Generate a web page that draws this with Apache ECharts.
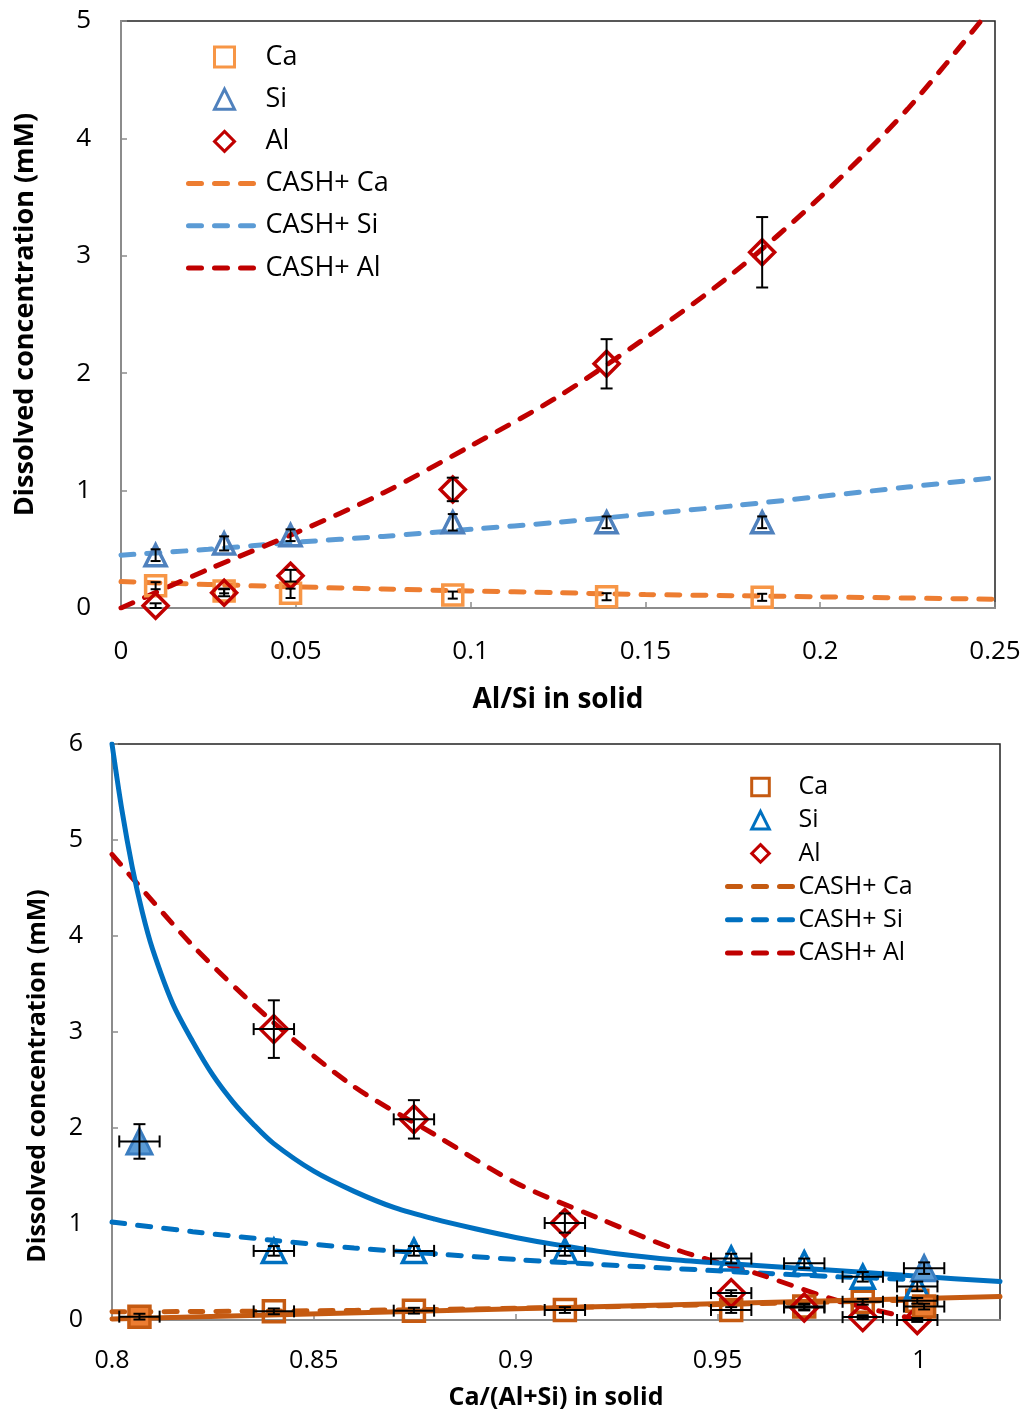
<!DOCTYPE html>
<html><head><meta charset="utf-8">
<script src="https://cdn.jsdelivr.net/npm/echarts@6/dist/echarts.min.js"></script>
<style>html,body{margin:0;padding:0;background:#fff}#c{width:1027px;height:1412px}</style>
</head><body><div id="c"></div><script>
// ---------- Top chart: Al/Si in solid ----------
const topX      = [0.0099, 0.0295, 0.0485, 0.0949, 0.1389, 0.1834];
const topCa     = [0.19, 0.145, 0.125, 0.11, 0.096, 0.091];
const topCaErr  = [0.03, 0.02, 0.04, 0.03, 0.03, 0.03];
const topSi     = [0.45, 0.55, 0.62, 0.73, 0.73, 0.73];
const topSiErr  = [0.05, 0.06, 0.05, 0.07, 0.05, 0.05];
const topAl     = [0.02, 0.13, 0.275, 1.01, 2.08, 3.03];
const topAlErr  = [0.02, 0.03, 0.05, 0.10, 0.21, 0.30];
const topFitX   = [0, 0.025, 0.05, 0.075, 0.1, 0.125, 0.15, 0.175, 0.2, 0.225, 0.25];
const topFitCa  = [0.225, 0.2, 0.18, 0.162, 0.145, 0.13, 0.115, 0.105, 0.095, 0.085, 0.075];
const topFitSi  = [0.45, 0.5, 0.56, 0.61, 0.67, 0.73, 0.8, 0.87, 0.95, 1.03, 1.11];
const topFitAl  = [0, 0.33, 0.64, 0.98, 1.38, 1.8, 2.3, 2.85, 3.5, 4.25, 5.15];
const topLegendMarks = ['Ca', 'Si', 'Al'];
const topLegendLines = ['CASH+ Ca', 'CASH+ Si', 'CASH+ Al'];

// ---------- Bottom chart: Ca/(Al+Si) in solid ----------
const botX       = [0.8401, 0.8748, 0.9122, 0.9534, 0.9715, 0.986, 0.9995];
const botCa      = [0.09, 0.097, 0.104, 0.104, 0.14, 0.19, 0.2];
const botCaErr   = [0.03, 0.03, 0.03, 0.03, 0.03, 0.03, 0.03];
const botSi      = [0.72, 0.72, 0.72, 0.64, 0.59, 0.45, 0.35];
const botSiErr   = [0.05, 0.05, 0.05, 0.05, 0.05, 0.05, 0.05];
const botAl      = [3.03, 2.09, 1.01, 0.28, 0.13, 0.03, 0.0];
const botAlErr   = [0.30, 0.20, 0.10, 0.03, 0.03, 0.02, 0.02];
const botXErr    = 0.005;
const botCaFillX = [0.8068, 1.0012];
const botCaFill  = [0.035, 0.14];
const botSiFillX = [0.8068, 1.0012];
const botSiFill  = [1.86, 0.54];
const botSiFillErr = [0.18, 0.06];
const botFitX    = [0.8, 0.82, 0.84, 0.86, 0.88, 0.9, 0.92, 0.94, 0.96, 0.98, 1.0];
const botFitCa   = [0.085, 0.088, 0.093, 0.1, 0.11, 0.122, 0.137, 0.153, 0.17, 0.19, 0.21];
const botFitSi   = [1.02, 0.92, 0.83, 0.75, 0.69, 0.63, 0.58, 0.535, 0.49, 0.45, 0.42];
const botFitAl   = [4.85, 3.9, 3.1, 2.43, 1.93, 1.43, 1.07, 0.73, 0.48, 0.2, 0.0];
const botSolidSiX = [0.8, 0.8025, 0.805, 0.8075, 0.81, 0.815, 0.82, 0.825, 0.83, 0.835, 0.84, 0.85, 0.86, 0.87, 0.88, 0.89, 0.9, 0.91, 0.925, 0.94, 0.955, 0.97, 0.985, 1.0, 1.02];
const botSolidSi  = [6.0, 5.3, 4.72, 4.25, 3.87, 3.3, 2.9, 2.55, 2.27, 2.04, 1.84, 1.55, 1.34, 1.17, 1.05, 0.95, 0.86, 0.785, 0.69, 0.625, 0.58, 0.54, 0.5, 0.455, 0.40];
const botSolidCaX = [0.8, 1.02];
const botSolidCa  = [0.01, 0.245];
const botLegendMarks = ['Ca ', 'Si ', 'Al '];
const botLegendLines = ['CASH+ Ca ', 'CASH+ Si ', 'CASH+ Al '];

const FONT = '"Open Sans", "Noto Sans", sans-serif';
const zip = (xs, ys) => xs.map((x, i) => [x, ys[i]]);
const DASH = [13, 13];

function errRender(cap) {
  return function (params, api) {
    const x = api.value(0), y = api.value(1), ex = api.value(2), ey = api.value(3);
    const style = { stroke: '#000', lineWidth: 2 };
    const ch = [];
    if (ey > 0) {
      const a = api.coord([x, y - ey]), b = api.coord([x, y + ey]);
      ch.push({ type: 'line', shape: { x1: a[0], y1: a[1], x2: b[0], y2: b[1] }, style });
      ch.push({ type: 'line', shape: { x1: a[0] - cap, y1: a[1], x2: a[0] + cap, y2: a[1] }, style });
      ch.push({ type: 'line', shape: { x1: b[0] - cap, y1: b[1], x2: b[0] + cap, y2: b[1] }, style });
    }
    if (ex > 0) {
      const a = api.coord([x - ex, y]), b = api.coord([x + ex, y]);
      ch.push({ type: 'line', shape: { x1: a[0], y1: a[1], x2: b[0], y2: b[1] }, style });
      ch.push({ type: 'line', shape: { x1: a[0], y1: a[1] - cap, x2: a[0], y2: a[1] + cap }, style });
      ch.push({ type: 'line', shape: { x1: b[0], y1: b[1] - cap, x2: b[0], y2: b[1] + cap }, style });
    }
    return { type: 'group', children: ch };
  };
}

function markerSeries(name, gi, data, symbol, size, stroke, fill, bw) {
  return {
    type: 'line', name, xAxisIndex: gi, yAxisIndex: gi, data,
    symbol, symbolSize: size, showSymbol: true, z: 5,
    lineStyle: { opacity: 0, color: stroke },
    itemStyle: { color: fill, borderColor: stroke, borderWidth: bw, opacity: 1 },
    emphasis: { disabled: true }, silent: true, animation: false
  };
}
function fitSeries(name, gi, data, color, dashed, width) {
  return {
    type: 'line', name, xAxisIndex: gi, yAxisIndex: gi, data,
    symbol: 'none', smooth: 0.3, z: 3,
    lineStyle: { color, width, type: dashed ? DASH : 'solid', cap: 'round' },
    itemStyle: { color },
    emphasis: { disabled: true }, silent: true, animation: false
  };
}
function errSeries(gi, data, cap) {
  return { type: 'custom', xAxisIndex: gi, yAxisIndex: gi, data, renderItem: errRender(cap), z: 6, silent: true, animation: false };
}
function legendData(marks, lines) {
  return marks.map(n => ({ name: n })).concat(lines.map(n => ({ name: n, itemStyle: { opacity: 0 } })));
}

const axisCommon = () => ({
  axisLine: { show: true, lineStyle: { color: '#8c8c8c', width: 2 } },
  axisTick: { show: true, inside: true, length: 6, lineStyle: { color: '#8c8c8c', width: 1.5 } },
  splitLine: { show: false }
});

const topC = { ca: '#F79646', caLine: '#ED7D31', si: '#4F81BD', siLine: '#5B9BD5', al: '#C00000' };
const botC = { ca: '#C55A11', caFill: '#ED7D31', si: '#0070C0', siFill: '#5B9BD5', siFillBorder: '#3A7DC0', al: '#C00000' };

const option = {
  backgroundColor: '#fff',
  animation: false,
  grid: [
    { left: 121, top: 21, width: 874, height: 587, show: true, borderColor: '#222', borderWidth: 1.5, backgroundColor: 'transparent' },
    { left: 112, top: 744, width: 888, height: 576, show: true, borderColor: '#222', borderWidth: 1.5, backgroundColor: 'transparent' }
  ],
  xAxis: [
    Object.assign(axisCommon(), {
      type: 'value', gridIndex: 0, min: 0, max: 0.25, interval: 0.05,
      name: 'Al/Si in solid', nameLocation: 'middle', nameGap: 78,
      nameTextStyle: { color: '#000', fontFamily: FONT, fontWeight: 'bold', fontSize: 28 },
      axisLabel: { color: '#000', fontSize: 26, fontFamily: FONT, margin: 31 }
    }),
    Object.assign(axisCommon(), {
      type: 'value', gridIndex: 1, min: 0.8, max: 1.02, interval: 0.05,
      name: 'Ca/(Al+Si) in solid', nameLocation: 'middle', nameGap: 65,
      nameTextStyle: { color: '#000', fontFamily: FONT, fontWeight: 'bold', fontSize: 25 },
      axisLabel: { color: '#000', fontSize: 25, fontFamily: FONT, margin: 28, showMaxLabel: false }
    })
  ],
  yAxis: [
    Object.assign(axisCommon(), {
      type: 'value', gridIndex: 0, min: 0, max: 5, interval: 1,
      name: 'Dissolved concentration (mM)', nameLocation: 'middle', nameGap: 82,
      nameTextStyle: { color: '#000', fontFamily: FONT, fontWeight: 'bold', fontSize: 27 },
      axisLabel: { color: '#000', fontSize: 26, fontFamily: FONT, margin: 30 }
    }),
    Object.assign(axisCommon(), {
      type: 'value', gridIndex: 1, min: 0, max: 6, interval: 1,
      name: 'Dissolved concentration (mM)', nameLocation: 'middle', nameGap: 62,
      nameTextStyle: { color: '#000', fontFamily: FONT, fontWeight: 'bold', fontSize: 25, padding: [0, 88, 0, 0] },
      axisLabel: { color: '#000', fontSize: 25, fontFamily: FONT, margin: 29 }
    })
  ],
  legend: [
    {
      data: legendData(topLegendMarks, topLegendLines), orient: 'vertical', left: 186, top: 42, padding: 0,
      itemWidth: 72, itemHeight: 25, itemGap: 12.2, selectedMode: false,
      textStyle: { color: '#000', fontSize: 27, fontFamily: FONT, lineHeight: 30 },
      lineStyle: { width: 5 }, itemStyle: { borderWidth: 3 }
    },
    {
      data: legendData(botLegendMarks, botLegendLines), orient: 'vertical', left: 725, top: 774, padding: 0,
      itemWidth: 66, itemHeight: 22, itemGap: 7.2, selectedMode: false,
      formatter: (n) => n.trim(),
      textStyle: { color: '#000', fontSize: 25, fontFamily: FONT, lineHeight: 26 },
      lineStyle: { width: 5 }, itemStyle: { borderWidth: 3 }
    }
  ],
  series: [
    // top fits
    fitSeries('CASH+ Ca', 0, zip(topFitX, topFitCa), topC.caLine, true, 5),
    fitSeries('CASH+ Si', 0, zip(topFitX, topFitSi), topC.siLine, true, 5),
    fitSeries('CASH+ Al', 0, zip(topFitX, topFitAl), topC.al, true, 5),
    // top markers
    markerSeries('Ca', 0, zip(topX, topCa), 'rect', 20, topC.ca, 'transparent', 3.5),
    markerSeries('Si', 0, zip(topX, topSi), 'triangle', 21, topC.si, 'transparent', 3.5),
    markerSeries('Al', 0, zip(topX, topAl), 'diamond', 25, topC.al, 'transparent', 3.5),
    // top error bars
    errSeries(0, topX.map((x, i) => [x, topCa[i], 0, topCaErr[i]]), 5),
    errSeries(0, topX.map((x, i) => [x, topSi[i], 0, topSiErr[i]]), 5),
    errSeries(0, topX.map((x, i) => [x, topAl[i], 0, topAlErr[i]]), 6),

    // bottom fits
    fitSeries('CASH+ Ca ', 1, zip(botFitX, botFitCa), botC.ca, true, 5),
    fitSeries('CASH+ Si ', 1, zip(botFitX, botFitSi), botC.si, true, 5),
    fitSeries('CASH+ Al ', 1, zip(botFitX, botFitAl), botC.al, true, 5),
    fitSeries('model Si', 1, zip(botSolidSiX, botSolidSi), botC.si, false, 5),
    fitSeries('model Ca', 1, zip(botSolidCaX, botSolidCa), botC.ca, false, 5),
    // bottom markers
    markerSeries('Ca ', 1, zip(botX, botCa), 'rect', 21, botC.ca, 'transparent', 3.5),
    markerSeries('Si ', 1, zip(botX, botSi), 'triangle', 23, botC.si, 'transparent', 3.5),
    markerSeries('Al ', 1, zip(botX, botAl), 'diamond', 27, botC.al, 'transparent', 3.5),
    markerSeries('Ca filled', 1, zip(botCaFillX, botCaFill), 'rect', 21, botC.ca, botC.caFill, 3.5),
    markerSeries('Si filled', 1, zip(botSiFillX, botSiFill), 'triangle', 25, botC.siFillBorder, botC.siFill, 3),
    // bottom error bars
    errSeries(1, botX.map((x, i) => [x, botCa[i], botXErr, botCaErr[i]]), 6),
    errSeries(1, botX.map((x, i) => [x, botSi[i], botXErr, botSiErr[i]]), 6),
    errSeries(1, botX.map((x, i) => [x, botAl[i], botXErr, botAlErr[i]]), 6),
    errSeries(1, botCaFillX.map((x, i) => [x, botCaFill[i], botXErr, 0.03]), 6),
    errSeries(1, botSiFillX.map((x, i) => [x, botSiFill[i], botXErr, botSiFillErr[i]]), 6)
  ]
};

const chart = echarts.init(document.getElementById('c'), null, { renderer: 'canvas' });
chart.setOption(option);
</script></body></html>
